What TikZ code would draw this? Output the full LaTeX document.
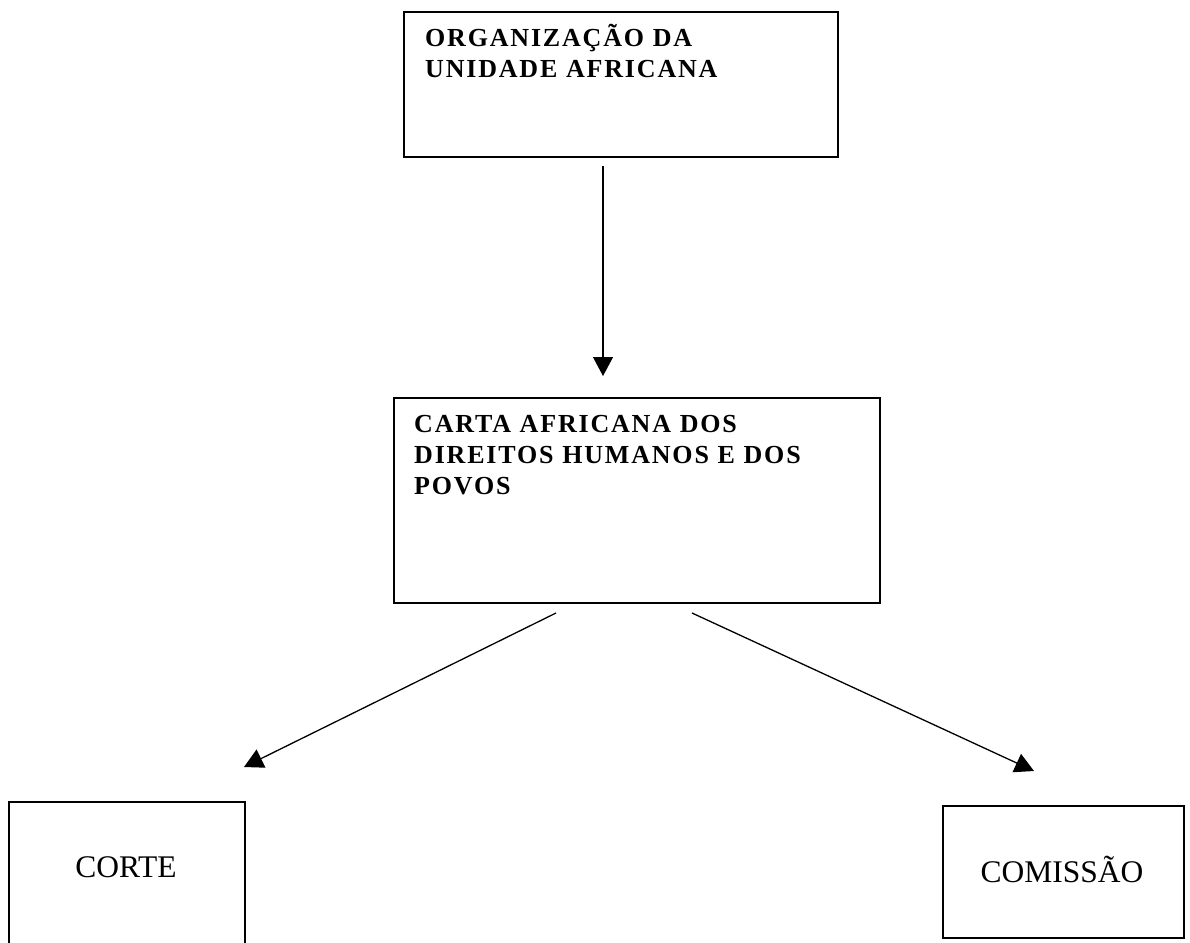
\documentclass[tikz,border=0pt]{standalone}
\usepackage{fontspec}
\setmainfont{Liberation Serif}
\newfontfamily\spacedbf[LetterSpace=7]{Liberation Serif}
\usetikzlibrary{arrows.meta}
\begin{document}
\begin{tikzpicture}[x=1pt,y=-1pt,
  box/.style={draw, line width=1.8pt, inner sep=0pt, anchor=north west},
  conn/.style={line width=1.3pt, -{Triangle[length=19pt,width=20pt]}},
  headtxt/.style={anchor=base west, inner sep=0pt, text width=450pt, align=left,
    font=\fontsize{26}{31}\selectfont\spacedbf\bfseries},
  plaintxt/.style={anchor=base, inner sep=0pt, font=\fontsize{31.5}{36}\selectfont}]
\clip (0,0) rectangle (1190,942);
% boxes
\node[box, minimum width=434pt, minimum height=145pt] (oua) at (403,11) {};
\node[headtxt] (ouatxt) at (425,47) {ORGANIZAÇÃO DA\\UNIDADE AFRICANA};
\node[box, minimum width=486pt, minimum height=205pt] (carta) at (393,397) {};
\node[headtxt] (cartatxt) at (414,432) {CARTA AFRICANA DOS\\DIREITOS HUMANOS E DOS\\POVOS};
\node[box, minimum width=236pt, minimum height=170pt] (corte) at (8,801) {};
\node[plaintxt] (cortetxt) at (126,877) {CORTE};
\node[box, minimum width=241pt, minimum height=132pt] (comissao) at (942,805) {};
\node[plaintxt] (comissaotxt) at (1062,882) {COMISSÃO};
% connector end points
\coordinate (a1s) at (603,166);
\coordinate (a1e) at (603,376);
\coordinate (a2s) at (556,613);
\coordinate (a2e) at (244,767);
\coordinate (a3s) at (692,613);
\coordinate (a3e) at (1034,771);
\draw[conn] (a1s) -- (a1e);
\draw[conn] (a2s) -- (a2e);
\draw[conn] (a3s) -- (a3e);
\end{tikzpicture}
\end{document}
